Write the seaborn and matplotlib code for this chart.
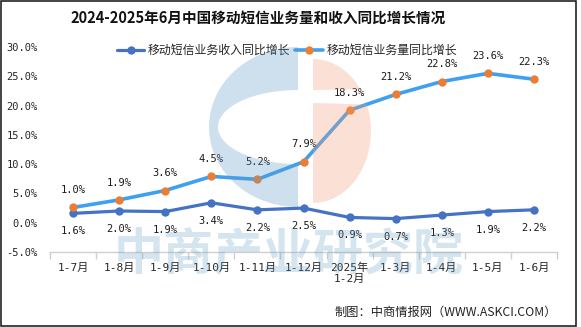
import numpy as np
import pandas as pd
import matplotlib
matplotlib.use("Agg")
import matplotlib.pyplot as plt
from matplotlib.patches import Rectangle, PathPatch
from matplotlib.path import Path
import seaborn as sns

categories = ["1-7月", "1-8月", "1-9月", "1-10月", "1-11月", "1-12月",
              "2025年\n1-2月", "1-3月", "1-4月", "1-5月", "1-6月"]
income_growth = [1.6, 2.0, 1.9, 3.4, 2.2, 2.5, 0.9, 0.7, 1.3, 1.9, 2.2]
volume_growth = [1.0, 1.9, 3.6, 4.5, 5.2, 7.9, 18.3, 21.2, 22.8, 23.6, 22.3]
yticks = [-5, 0, 5, 10, 15, 20, 25, 30]
title = "2024-2025年6月中国移动短信业务量和收入同比增长情况"
name_income = "移动短信业务收入同比增长"
name_volume = "移动短信业务量同比增长"
source = "制图：中商情报网（WWW.ASKCI.COM）"
watermark = "中商产业研究院"

sns.set_theme(style="white")
CJK = ["Noto Sans CJK SC", "DejaVu Sans"]
MONO = ["DejaVu Sans Mono", "Noto Sans CJK SC"]
plt.rcParams["font.family"] = CJK

W, H = 581, 327
fig = plt.figure(figsize=(W / 100, H / 100), dpi=100)
fig.patch.set_facecolor("white")

ax = fig.add_axes([50 / W, 1 - 252 / H, (557 - 50) / W, (252 - 47) / H])
ax.set_facecolor("none")

df = pd.DataFrame({"x": np.arange(len(categories)),
                   "income": income_growth,
                   "volume": volume_growth})
# stacked line: volume series drawn on top of income series
df["volume_stacked"] = df["income"] + df["volume"]

c_inc = "#4472C4"
c_vol_line = "#3FA0F0"
c_vol_mark = "#ED7D31"

sns.lineplot(data=df, x="x", y="income", ax=ax, color=c_inc, lw=2.3,
             marker="o", markersize=6, markeredgewidth=0,
             markerfacecolor=c_inc, label=name_income, legend=False)
sns.lineplot(data=df, x="x", y="volume_stacked", ax=ax, color=c_vol_line, lw=2.6,
             marker="o", markersize=6, markeredgewidth=0,
             markerfacecolor=c_vol_mark, label=name_volume, legend=False)

for xi, yi, v in zip(df["x"], df["income"], df["income"]):
    ax.annotate(f"{v:.1f}%", (xi, yi), xytext=(0, -13), textcoords="offset points",
                ha="center", va="center", fontsize=7.5, family=MONO, color="#1a1a1a")
for xi, yi, v in zip(df["x"], df["volume_stacked"], df["volume"]):
    ax.annotate(f"{v:.1f}%", (xi, yi), xytext=(0, 12.5), textcoords="offset points",
                ha="center", va="center", fontsize=7.5, family=MONO, color="#1a1a1a")

ax.set_xlim(-0.5, len(categories) - 0.5)
ax.set_ylim(-5, 30)
ax.set_yticks(yticks)
ax.set_yticklabels([f"{t:.1f}%" for t in yticks], family=MONO, fontsize=7.5)
ax.set_xticks(df["x"])
ax.set_xticklabels(categories, fontsize=8, family=MONO, linespacing=1.1)
ax.set_xticks(np.arange(-0.5, len(categories), 1), minor=True)
ax.tick_params(axis="x", which="major", length=0, pad=8)
ax.tick_params(axis="x", which="minor", length=5, color="#d0d0d0", width=1, direction="out", bottom=True)
ax.tick_params(axis="y", length=0, pad=9)
for s in ["left", "right", "top"]:
    ax.spines[s].set_visible(False)
ax.spines["bottom"].set_color("#d0d0d0")
ax.spines["bottom"].set_linewidth(1)
ax.set_xlabel("")
ax.set_ylabel("")
ax.grid(False)

fig.text(258 / W, 1 - 18 / H, title, ha="center", va="center",
         fontsize=10.5, fontweight="bold", family=CJK, color="#111111")

handles, labels = ax.get_legend_handles_labels()
fig.legend(handles, labels, loc="center", bbox_to_anchor=(287 / W, 1 - 50.5 / H),
           ncol=2, frameon=False, fontsize=8.6, handlelength=2.3,
           handletextpad=0.3, columnspacing=0.4, borderaxespad=0)

fig.text(557 / W, 1 - 312.5 / H, source, ha="right", va="center",
         fontsize=8.8, family=CJK, color="#222222")

# watermark overlay (drawn on top with transparency)
ov = fig.add_axes([0, 0, 1, 1], zorder=10)
ov.set_xlim(0, W)
ov.set_ylim(H, 0)
ov.axis("off")
ov.patch.set_alpha(0)
blue = (95 / 255, 155 / 255, 198 / 255)
peach = (242 / 255, 158 / 255, 118 / 255)
a = 0.3
t1 = np.linspace(np.pi / 2, 3 * np.pi / 2, 60)
cx = 298
outer = np.column_stack([cx + 89 * np.cos(t1), 127 - 80 * np.sin(t1)])
t2 = t1[::-1]
inner = np.column_stack([cx + 80 * np.cos(t2), 127 - 37 * np.sin(t2)])
verts = np.vstack([outer, [[cx, 207]], [[cx, 164]], inner, [[cx, 90]], [[cx, 47]]])
ov.add_patch(PathPatch(Path(verts), facecolor=blue, alpha=a, lw=0))
t3 = np.linspace(-np.pi / 2, np.pi / 2, 80)
px = 313
pts = [(px + 58 * np.cos(t), 131 - 72 * np.sin(t)) for t in t3]
top_part = [p for p in pts if p[1] <= 90]
bot_part = [p for p in pts if p[1] >= 103]
v1 = np.array([(px, 59)] + sorted(top_part, key=lambda p: p[1]) + [(px, 90)])
ov.add_patch(PathPatch(Path(v1), facecolor=peach, alpha=a, lw=0))
v2 = np.array([(px, 103)] + sorted(bot_part, key=lambda p: p[1]) + [(px, 203)])
ov.add_patch(PathPatch(Path(v2), facecolor=peach, alpha=a, lw=0))

ov.text(289, 256, watermark, ha="center", va="center", fontsize=36,
        fontweight="bold", family=CJK, color=blue, alpha=0.26)

# figure border
ov.add_patch(Rectangle((1, 1), 575, 325, fill=False, ec="#111111", lw=1.1))

fig.savefig("out.png", dpi=100)
